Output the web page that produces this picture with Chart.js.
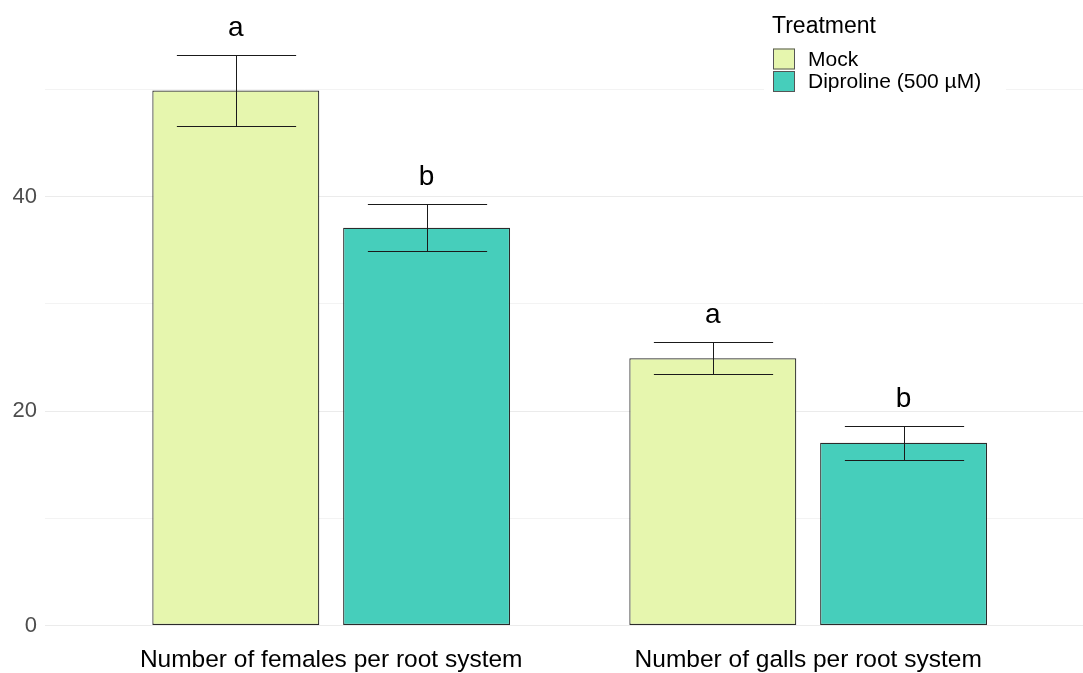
<!DOCTYPE html>
<html>
<head>
<meta charset="utf-8">
<script src="https://cdn.jsdelivr.net/npm/chart.js@4"></script>
<style>
  html, body { margin: 0; padding: 0; background: #ffffff; overflow: hidden; }
  #wrap { width: 1083px; height: 673px; position: relative; }
</style>
</head>
<body>
<div id="wrap"><canvas id="chart"></canvas></div>
<script>
// values
const categories = ['Number of females per root system', 'Number of galls per root system'];
const groups = ['Mock', 'Diproline (500 µM)'];
const mockMeans = [49.9, 24.93];
const mockSE = [3.3, 1.48];
const diproMeans = [37.1, 17.05];
const diproSE = [2.18, 1.57];
const mockLetters = ['a', 'a'];
const diproLetters = ['b', 'b'];
const yTicks = [0, 10, 20, 30, 40, 50];

const FONT = "'Liberation Sans', Arial, sans-serif";
const errs = [mockSE, diproSE];
const letters = [mockLetters, diproLetters];

// error bars + significance letters, placed through the chart's scales
const errorBarPlugin = {
    id: 'errorBars',
    afterDatasetsDraw(chart) {
        const ctx = chart.ctx;
        const xs = chart.scales.x;
        const ys = chart.scales.y;
        const half = xs.getPixelForValue(1.125) - xs.getPixelForValue(1);
        ctx.save();
        chart.data.datasets.forEach((ds, i) => {
            const meta = chart.getDatasetMeta(i);
            meta.data.forEach((bar, j) => {
                const m = ds.data[j].y;
                const se = errs[i][j];
                const yTop = Math.round(ys.getPixelForValue(m + se)) + 0.5;
                const yBot = Math.round(ys.getPixelForValue(m - se)) + 0.5;
                const bx = Math.round(bar.x) + 0.5;
                ctx.strokeStyle = '#1a1a1a';
                ctx.lineWidth = 1;
                ctx.beginPath();
                ctx.moveTo(bx, yTop); ctx.lineTo(bx, yBot);
                ctx.moveTo(bx - half, yTop); ctx.lineTo(bx + half, yTop);
                ctx.moveTo(bx - half, yBot); ctx.lineTo(bx + half, yBot);
                ctx.stroke();

                ctx.fillStyle = '#000000';
                ctx.font = '28px ' + FONT;
                ctx.textAlign = 'center';
                ctx.textBaseline = 'alphabetic';
                ctx.fillText(letters[i][j], bar.x, ys.getPixelForValue(m + se + 1.8));
            });
        });
        ctx.restore();
    },
    afterDraw(chart) {
        const ctx = chart.ctx;
        ctx.save();
        ctx.fillStyle = '#ffffff';
        ctx.fillRect(764, 4, 242, 96);
        ctx.fillStyle = '#000000';
        ctx.font = '23px ' + FONT;
        ctx.textAlign = 'left';
        ctx.textBaseline = 'alphabetic';
        ctx.fillText('Treatment', 772, 33);
        ctx.font = '21px ' + FONT;
        ctx.textBaseline = 'middle';
        chart.data.datasets.forEach((ds, i) => {
            const top = 48.5 + i * 22.5;
            ctx.fillStyle = ds.backgroundColor;
            ctx.fillRect(773, top, 22, 21);
            ctx.strokeStyle = '#555555';
            ctx.lineWidth = 1;
            ctx.strokeRect(773.5, top + 0.5, 21, 20);
            ctx.fillStyle = '#000000';
            ctx.fillText(ds.label, 808, top + 11.5);
        });
        ctx.restore();
    }
};

const ctx = document.getElementById('chart').getContext('2d');
new Chart(ctx, {
    type: 'bar',
    data: {
        datasets: [
            {
                label: groups[0],
                data: mockMeans.map((v, i) => ({ x: i + 1, y: v })),
                backgroundColor: '#e6f6ae',
                borderColor: '#2b2b2b',
                borderWidth: 1.2,
                borderSkipped: false,
                categoryPercentage: 0.8,
                barPercentage: 0.875
            },
            {
                label: groups[1],
                data: diproMeans.map((v, i) => ({ x: i + 1, y: v })),
                backgroundColor: '#46cebb',
                borderColor: '#2b2b2b',
                borderWidth: 1.2,
                borderSkipped: false,
                categoryPercentage: 0.8,
                barPercentage: 0.875
            }
        ]
    },
    options: {
        responsive: true,
        maintainAspectRatio: false,
        animation: false,
        layout: { padding: { top: 8, left: 0, right: 0, bottom: 0 } },
        plugins: {
            legend: { display: false },
            tooltip: { enabled: false }
        },
        scales: {
            x: {
                type: 'linear',
                offset: false,
                min: 0.4,
                max: 0.4 + 1038 / 477,
                afterBuildTicks: (s) => { s.ticks = [{ value: 1 }, { value: 2 }]; },
                afterFit: (s) => {
                    s.height = 47.5;
                    s.paddingLeft = 0; s.paddingRight = 0;
                },
                grid: { display: false, drawTicks: false, offset: false },
                border: { display: false },
                ticks: {
                    padding: 20,
                    color: '#000000',
                    font: { family: FONT, size: 24.5 },
                    maxRotation: 0,
                    autoSkip: false,
                    callback: (v) => categories[Math.round(v) - 1] || ''
                }
            },
            y: {
                min: 0,
                max: 57.6,
                afterBuildTicks: (s) => { s.ticks = yTicks.map(v => ({ value: v })); },
                afterFit: (s) => {
                    s.width = 45;
                    s.paddingTop = 0; s.paddingBottom = 0;
                },
                grid: {
                    drawTicks: false,
                    color: '#ebebeb',
                    lineWidth: (c) => (c.tick && c.tick.value % 20 === 0) ? 1.1 : 0.6
                },
                border: { display: false },
                ticks: {
                    padding: 8,
                    color: '#4d4d4d',
                    font: { family: FONT, size: 22 },
                    callback: (v) => (v % 20 === 0 ? String(v) : '')
                }
            }
        }
    },
    plugins: [errorBarPlugin]
});
</script>
</body>
</html>
